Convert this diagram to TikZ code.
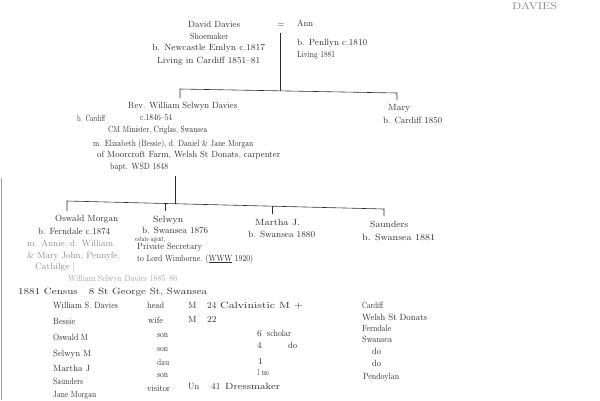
\documentclass[tikz,border=0pt]{standalone}
\usepackage{graphicx}
\definecolor{ink}{HTML}{2E2E2E}
\definecolor{pencil}{HTML}{8C8C8C}
\definecolor{edge}{HTML}{A0A0A0}
\newcommand{\hw}[2]{\resizebox{#1pt}{\height}{#2}}
\begin{document}
\begin{tikzpicture}[x=1pt,y=-1pt,
  txt/.style={anchor=base west, inner sep=0pt, text=ink, font=\fontsize{9}{10}\selectfont},
  faint/.style={txt, text=pencil},
  small/.style={txt, font=\fontsize{7.5}{9}\selectfont},
  tree/.style={draw=ink, line width=0.6pt}]
\useasboundingbox (0,0) rectangle (600,400);
% page edge
\draw[edge, line width=0.5pt] (1.5,178) -- (1.5,400);
% heading
\node[txt, text=pencil, font=\fontsize{10}{12}\selectfont] (hd) at (512,9) {\hw{45}{DAVIES}};
% David Davies
\node[txt] (dd1) at (188,27) {\hw{52}{David Davies}};
\node[txt] (dd2) at (190,39) {\hw{38}{Shoemaker}};
\node[txt] (dd3) at (152,50) {\hw{113}{b. Newcastle Emlyn c.1817}};
\node[txt] (dd4) at (157,63) {\hw{103}{Living in Cardiff 1851--81}};
\node[txt, anchor=center] (eq) at (281,26) {=};
% Ann
\node[txt] (an1) at (297,26) {\hw{16}{Ann}};
\node[txt] (an2) at (297,45) {\hw{70}{b. Penllyn c.1810}};
\node[txt] (an3) at (297,57) {\hw{38}{Living 1881}};
% tree level 1
\coordinate (p1) at (280,33);
\coordinate (j1) at (280,90.5);
\coordinate (l1) at (180,89);
\coordinate (r1) at (397,93);
\coordinate (l1b) at (180,98);
\coordinate (r1b) at (397,100);
\draw[tree] (p1) -- (j1);
\draw[tree] (l1b) -- (l1) -- (r1) -- (r1b);
% William Selwyn Davies
\node[txt] (w1) at (128,108) {\hw{109}{Rev. William Selwyn Davies}};
\node[txt] (w2) at (77,121) {\hw{28}{b. Cardiff}};
\node[txt] (w3) at (140,120) {\hw{32}{c.1846--54}};
\node[txt] (w4) at (108,132) {\hw{99}{CM Minister, Criglas, Swansea}};
\node[txt] (w5) at (93,146) {\hw{160}{m. Elizabeth (Bessie), d. Daniel \& Jane Morgan}};
\node[txt] (w6) at (97,157) {\hw{183}{of Moorcroft Farm, Welsh St Donats, carpenter}};
\node[txt] (w7) at (110,169) {\hw{58}{bapt. WSD 1848}};
% Mary
\node[txt] (m1) at (388,110) {\hw{22}{Mary}};
\node[txt] (m2) at (383,123) {\hw{59}{b. Cardiff 1850}};
% tree level 2
\coordinate (p2) at (175,176);
\coordinate (j2) at (175,203.7);
\coordinate (l2) at (67,201);
\coordinate (r2) at (384,209);
\coordinate (l2b) at (67,211);
\coordinate (s2) at (165,203.5);
\coordinate (s2b) at (165,211);
\coordinate (t2) at (272,206.3);
\coordinate (t2b) at (272,214);
\coordinate (r2b) at (384,216);
\draw[tree] (p2) -- (j2);
\draw[tree] (l2b) -- (l2) -- (r2) -- (r2b);
\draw[tree] (s2) -- (s2b);
\draw[tree] (t2) -- (t2b);
% Oswald
\node[txt] (o1) at (55,221) {\hw{63}{Oswald Morgan}};
\node[txt] (o2) at (38,234) {\hw{72}{b. Ferndale c.1874}};
\node[faint] (o3) at (27,246) {\hw{86}{m. Annie, d. William}};
\node[faint] (o4) at (27,258) {\hw{93}{\& Mary John, Pennyfe,}};
\node[faint] (o5) at (35,269) {\hw{40}{Cathilge |}};
\node[faint, text=pencil!80] (o6) at (68,281) {\hw{109}{William Selwyn Davies 1885--86}};
% Selwyn
\node[txt] (s1) at (153,222) {\hw{30}{Selwyn}};
\node[txt] (s3) at (142,233) {\hw{66}{b. Swansea 1876}};
\node[small] (s4) at (135,241) {\hw{30}{estate agent,}};
\node[txt] (s5) at (137,249) {\hw{65}{Private Secretary}};
\node[txt] (s6) at (137,261) {\hw{116}{to Lord Wimborne. (\underline{WWW} 1920)}};
% Martha
\node[txt] (mj1) at (255,225) {\hw{45}{Martha J.}};
\node[txt] (mj2) at (248,237) {\hw{67}{b. Swansea 1880}};
% Saunders
\node[txt] (sa1) at (370,227) {\hw{38}{Saunders}};
\node[txt] (sa2) at (362,240) {\hw{73}{b. Swansea 1881}};
% Census
\node[txt] (c0) at (18,294) {\hw{189}{1881 Census \ \ 8 St George St, Swansea}};
\node[txt] (n1) at (53,308) {\hw{65}{William S. Davies}};
\node[txt] (n2) at (53,324) {\hw{22}{Bessie}};
\node[txt] (n3) at (53,340) {\hw{35}{Oswald M}};
\node[txt] (n4) at (53,356) {\hw{38}{Selwyn M}};
\node[txt] (n5) at (53,371) {\hw{37}{Martha J}};
\node[txt] (n6) at (53,384) {\hw{30}{Saunders}};
\node[txt] (n7) at (53,397) {\hw{43}{Jane Morgan}};
\node[txt] (r1t) at (147,308) {\hw{17}{head}};
\node[txt] (r2t) at (148,323) {\hw{15}{wife}};
\node[txt] (r3t) at (157,337) {\hw{11}{son}};
\node[txt] (r4t) at (157,351) {\hw{11}{son}};
\node[txt] (r5t) at (157,365) {\hw{12}{dau}};
\node[txt] (r6t) at (157,377) {\hw{11}{son}};
\node[txt] (r7t) at (147,391) {\hw{23}{visitor}};
\node[txt] (k1) at (188,308) {M};
\node[txt] (k2) at (188,322) {M};
\node[txt] (k7) at (188,389) {\hw{11}{Un}};
\node[txt] (a1) at (207,308) {24};
\node[txt] (a2) at (207,322) {22};
\node[txt] (a3) at (257,336) {6};
\node[txt] (a4) at (257,348) {4};
\node[txt] (a5) at (258,364) {1};
\node[txt] (a6) at (257,375) {\hw{12}{1 mo}};
\node[txt] (a7) at (211,389) {41};
\node[txt] (oc1) at (220,308) {\hw{83}{Calvinistic M +}};
\node[txt] (oc3) at (267,336) {\hw{24}{scholar}};
\node[txt] (oc4) at (288,348) {\hw{9}{do}};
\node[txt] (oc7) at (225,389) {\hw{55}{Dressmaker}};
\node[txt] (b1) at (362,308) {\hw{21}{Cardiff}};
\node[txt] (b2) at (362,320) {\hw{65}{Welsh St Donats}};
\node[txt] (b3) at (362,331) {\hw{29}{Ferndale}};
\node[txt] (b4) at (362,342) {\hw{30}{Swansea}};
\node[txt] (b5) at (372,354) {\hw{9}{do}};
\node[txt] (b6) at (372,366) {\hw{9}{do}};
\node[txt] (b7) at (363,379) {\hw{36}{Pendoylan}};
\end{tikzpicture}
\end{document}
